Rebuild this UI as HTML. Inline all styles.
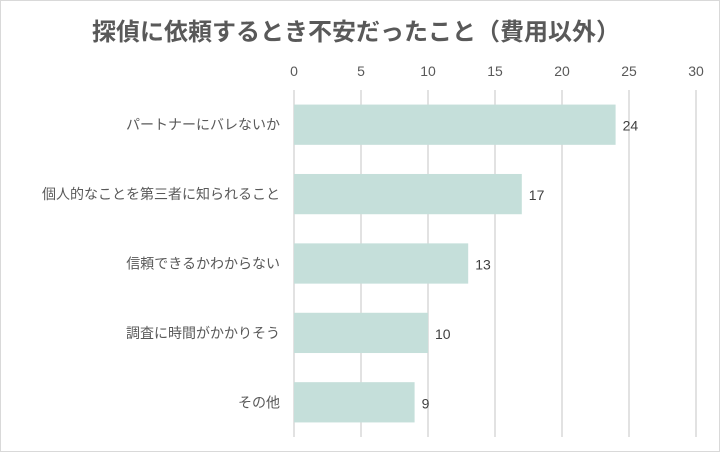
<!DOCTYPE html>
<html><head><meta charset="utf-8"><style>
body{margin:0;background:#fff}
svg text{font-family:"Liberation Sans","Noto Sans CJK JP",sans-serif}
</style></head><body>
<svg id="c" width="720" height="452" xmlns="http://www.w3.org/2000/svg">
<rect x="0.5" y="0.5" width="719" height="451" fill="#fff" stroke="#d9d9d9"/>
<text x="356" y="40" text-anchor="middle" font-size="24" font-weight="bold" fill="#595959">探偵に依頼するとき不安だったこと（費用以外）</text>
</svg>
<script>
const categories=["パートナーにバレないか","個人的なことを第三者に知られること","信頼できるかわからない","調査に時間がかかりそう","その他"];
const values=[24,17,13,10,9];
const ticks=[0,5,10,15,20,25,30];
const svgEl=document.getElementById('c');
const NS='http://www.w3.org/2000/svg';
const x0=294,x1=696,maxV=30,plotTop=90,plotBottom=437;
const band=(plotBottom-plotTop)/categories.length;
const xs=v=>x0+(x1-x0)*v/maxV;
function mk(t,a){const e=document.createElementNS(NS,t);for(const k in a)e.setAttribute(k,a[k]);svgEl.appendChild(e);return e;}
ticks.forEach(t=>{
  const l=mk('line',{x1:xs(t),x2:xs(t),y1:plotTop,y2:plotBottom,stroke:'#d9d9d9','stroke-width':1.5});
  
  
  const tx=mk('text',{x:xs(t),y:76,'text-anchor':'middle','font-size':14,fill:'#595959'});
  tx.textContent=t;
  
  
});
categories.forEach((c,i)=>{
  const cy=plotTop+band*(i+0.5);
  const h=band*0.58;
  const r=mk('rect',{x:x0,y:cy-h/2,width:xs(values[i])-x0,height:h,fill:'#c5dfda'});
  
  
  const lb=mk('text',{x:280,y:cy+5,'text-anchor':'end','font-size':14,fill:'#595959'});
  lb.textContent=c;
  
  
  const vl=mk('text',{x:xs(values[i])+7,y:cy+6,'font-size':14,fill:'#404040'});
  vl.textContent=values[i];
  
  
});
</script>
</body></html>
